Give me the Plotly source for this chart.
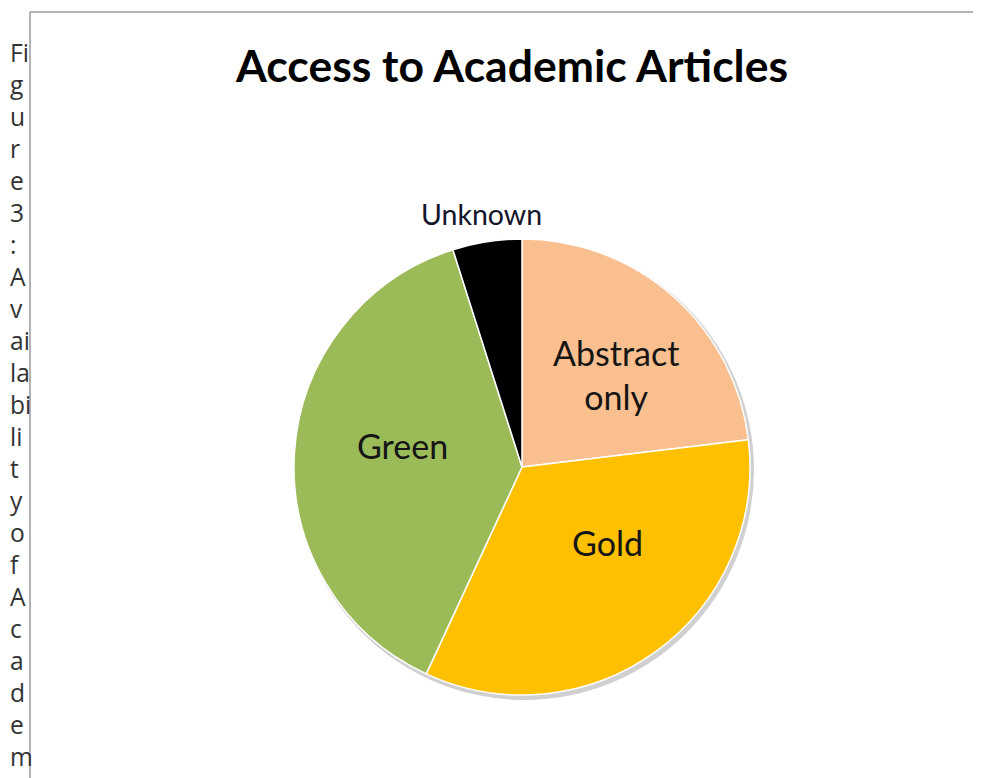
import plotly.graph_objects as go

# page body has an 8px margin; figure is sized to fill the rest of the window
OFF = 8
W, H = 981 - OFF, 778 - OFF

categories = ["Abstract only", "Gold", "Green", "Unknown"]
values = [23.1, 33.8, 38.2, 4.9]
colors = ["#F9BF8F", "#FFC000", "#9BBB59", "#000000"]
label_texts = ["Abstract<br>only", "Gold", "Green", "Unknown"]

title_text = "Access to Academic Articles"
caption_chars = ["Fi", "g", "u", "r", "e", "3", ":", "A", "v", "ai", "la", "bi",
                 "li", "t", "y", "o", "f", "A", "c", "a", "d", "e", "m"]

def px(x):
    return (x - OFF) / W

def py(y):
    return 1 - (y - OFF) / H

cx, cy, r = 522, 467, 228

fig = go.Figure()
fig.add_trace(go.Pie(
    labels=categories,
    values=values,
    sort=False,
    direction="clockwise",
    rotation=0,
    marker=dict(colors=colors, line=dict(color="#FFFFFF", width=1.5)),
    textinfo="none",
    hoverinfo="label+percent",
    showlegend=False,
    domain=dict(x=[px(cx - r), px(cx + r)], y=[py(cy + r), py(cy - r)]),
))

# label positions (pixels)
label_pos = [(616, 374, 34, "#151515"), (607, 542, 34, "#151515"),
             (402, 445, 34, "#151515"), (481, 214, 28.5, "#14142a")]
annotations = []
for t, (x, y, s, c) in zip(label_texts, label_pos):
    annotations.append(dict(
        text=t, x=px(x), y=py(y), xref="paper", yref="paper",
        showarrow=False, xanchor="center", yanchor="middle",
        font=dict(family="Lato, Open Sans, sans-serif", size=s, color=c),
    ))

annotations.append(dict(
    text=title_text, x=px(511), y=py(65), xref="paper", yref="paper",
    showarrow=False, xanchor="center", yanchor="middle",
    font=dict(family="Lato, sans-serif", size=44.5, color="#000000", weight="bold"),
))

annotations.append(dict(
    text="<br>".join(caption_chars), x=px(8), y=py(34), xref="paper", yref="paper",
    showarrow=False, xanchor="left", yanchor="top", align="left",
    font=dict(family="Open Sans, sans-serif", size=24.6, color="#333333"),
))

shapes = [
    # shadow
    dict(type="circle", xref="paper", yref="paper", layer="below",
         x0=px(cx - r + 1), x1=px(cx + r + 4), y0=py(cy + r + 5), y1=py(cy - r + 1),
         fillcolor="rgba(150,150,150,0.45)", line=dict(width=0)),
    # frame
    dict(type="line", xref="paper", yref="paper", x0=px(30), x1=px(985),
         y0=py(12), y1=py(12), line=dict(color="#9a9a9a", width=1.5)),
    dict(type="line", xref="paper", yref="paper", x0=px(30), x1=px(30),
         y0=py(12), y1=py(785), line=dict(color="#9a9a9a", width=1.5)),
]

fig.update_layout(
    width=W, height=H,
    margin=dict(l=0, r=0, t=0, b=0),
    paper_bgcolor="#FFFFFF", plot_bgcolor="#FFFFFF",
    annotations=annotations, shapes=shapes,
)

fig.write_html("out.html")
